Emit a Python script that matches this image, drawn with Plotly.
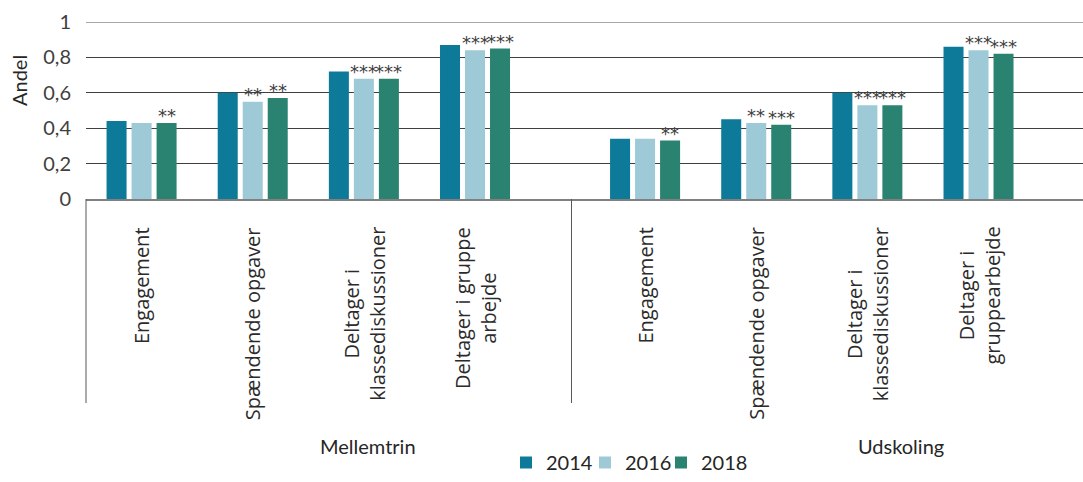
import plotly.graph_objects as go

# ---- data ----
groups = ["Mellemtrin", "Udskoling"]
cats_mellem = ["Engagement", "Spændende opgaver", "Deltager i<br>klassediskussioner", "Deltager i gruppe<br>arbejde"]
cats_udsk = ["Engagement", "Spændende opgaver", "Deltager i<br>klassediskussioner", "Deltager i<br>gruppearbejde"]
years = ["2014", "2016", "2018"]

mellem_2014 = [0.44, 0.60, 0.72, 0.87]
mellem_2016 = [0.43, 0.55, 0.68, 0.84]
mellem_2018 = [0.43, 0.57, 0.68, 0.85]
udsk_2014 = [0.34, 0.45, 0.60, 0.86]
udsk_2016 = [0.34, 0.43, 0.53, 0.84]
udsk_2018 = [0.33, 0.42, 0.53, 0.82]

stars_2014 = ["", "", "", "", "", "", "", ""]
stars_2016 = ["", "**", "***", "***", "", "**", "***", "***"]
stars_2018 = ["**", "**", "***", "***", "**", "***", "***", "***"]

colors = ["#0E7A99", "#9DCAD6", "#2A8370"]

# ---- layout helpers ----
W, H = 1083, 482
ML, MR, MT, MB = 86, 0, 22, 283
PW = W - ML - MR
PH = H - MT - MB
GAP = 0.53          # extra spacing between the two groups (category units)
PITCH = 0.225       # bar pitch inside a cluster
LEGEND_LEFT_PX = [506, 585, 661]


def py(p):
    """pixel row -> paper y"""
    return (H - MB - p) / PH


def px(p):
    """pixel column -> paper x"""
    return (p - ML) / PW


n = len(cats_mellem)
x_pos = [i for i in range(n)] + [i + n + GAP for i in range(n)]
series = [mellem_2014 + udsk_2014, mellem_2016 + udsk_2016, mellem_2018 + udsk_2018]
stars = [stars_2014, stars_2016, stars_2018]
legend_ids = ["legend", "legend2", "legend3"]

fig = go.Figure()
for k, (yr, vals, col) in enumerate(zip(years, series, colors)):
    fig.add_trace(go.Bar(x=x_pos, y=vals, name=yr, marker_color=col,
                         marker_line_width=0, hoverinfo="y", legend=legend_ids[k]))

annotations = []
# significance stars
for k in range(3):
    for i, s in enumerate(stars[k]):
        if s:
            annotations.append(dict(
                x=x_pos[i] + (k - 1) * PITCH, y=series[k][i], xref="x", yref="y",
                text=s, showarrow=False, yanchor="bottom", xanchor="center",
                yshift=-5, font=dict(family="DejaVu Sans", size=18, color="#404040")))

# category labels
for i, lab in enumerate(cats_mellem + cats_udsk):
    annotations.append(dict(
        x=x_pos[i], y=py(225), xref="x", yref="paper", text=lab, showarrow=False,
        textangle=-90, yanchor="top", xanchor="center", align="center",
        font=dict(family="Open Sans", size=20, color="#2B2B2B")))

# group labels
annotations.append(dict(x=2.033, y=py(446), xref="x", yref="paper", text=groups[0],
                        showarrow=False, yanchor="middle", xanchor="center",
                        font=dict(family="Lato", size=20, color="#262626")))
annotations.append(dict(x=6.83, y=py(446), xref="x", yref="paper", text=groups[1],
                        showarrow=False, yanchor="middle", xanchor="center",
                        font=dict(family="Lato", size=20, color="#262626")))

# y axis title
annotations.append(dict(x=px(19), y=py(81), xref="paper", yref="paper",
                        text="Andel", showarrow=False, textangle=-90,
                        xanchor="center", yanchor="middle",
                        font=dict(family="Lato", size=20, color="#262626")))

shapes = [
    # top gridline (lighter)
    dict(type="line", xref="paper", yref="y", x0=0, x1=1, y0=1, y1=1,
         line=dict(color="#8C8C8C", width=1.5), layer="above"),
    # group dividers
    dict(type="line", xref="paper", yref="paper", x0=0, x1=0, y0=0, y1=py(403),
         line=dict(color="#595959", width=1)),
    dict(type="line", xref="x", yref="paper", x0=3.868, x1=3.868, y0=0, y1=py(403),
         line=dict(color="#595959", width=1)),
]

legend_style = dict(orientation="h", xanchor="left", y=py(482), yanchor="bottom",
                    font=dict(family="Lato", size=20, color="#262626"),
                    itemwidth=30, bgcolor="rgba(0,0,0,0)")

fig.update_layout(
    width=W, height=H,
    margin=dict(l=ML, r=MR, t=MT, b=MB, autoexpand=False),
    paper_bgcolor="white", plot_bgcolor="white",
    barmode="group", bargap=0.325, bargroupgap=0.2,
    separators=", ",
    font=dict(family="Lato", size=20, color="#404040"),
    showlegend=True,
    legend=dict(x=px(LEGEND_LEFT_PX[0]), **legend_style),
    legend2=dict(x=px(LEGEND_LEFT_PX[1]), **legend_style),
    legend3=dict(x=px(LEGEND_LEFT_PX[2]), **legend_style),
    annotations=annotations,
    shapes=shapes,
)
fig.update_xaxes(range=[-0.5, 8.47], showticklabels=False, showgrid=False, zeroline=False,
                 showline=True, linecolor="#808080", linewidth=1.5, ticks="")
fig.update_yaxes(range=[0, 1], dtick=0.2, showgrid=True, gridcolor="#3F3F3F", gridwidth=1,
                 zeroline=False, showline=False, ticks="", ticklabelstandoff=14,
                 tickfont=dict(family="Lato", size=20, color="#404040"))

fig.write_html("out.html", config={"displayModeBar": False},
               post_script="document.body.style.margin='0';document.body.style.overflow='hidden';")
